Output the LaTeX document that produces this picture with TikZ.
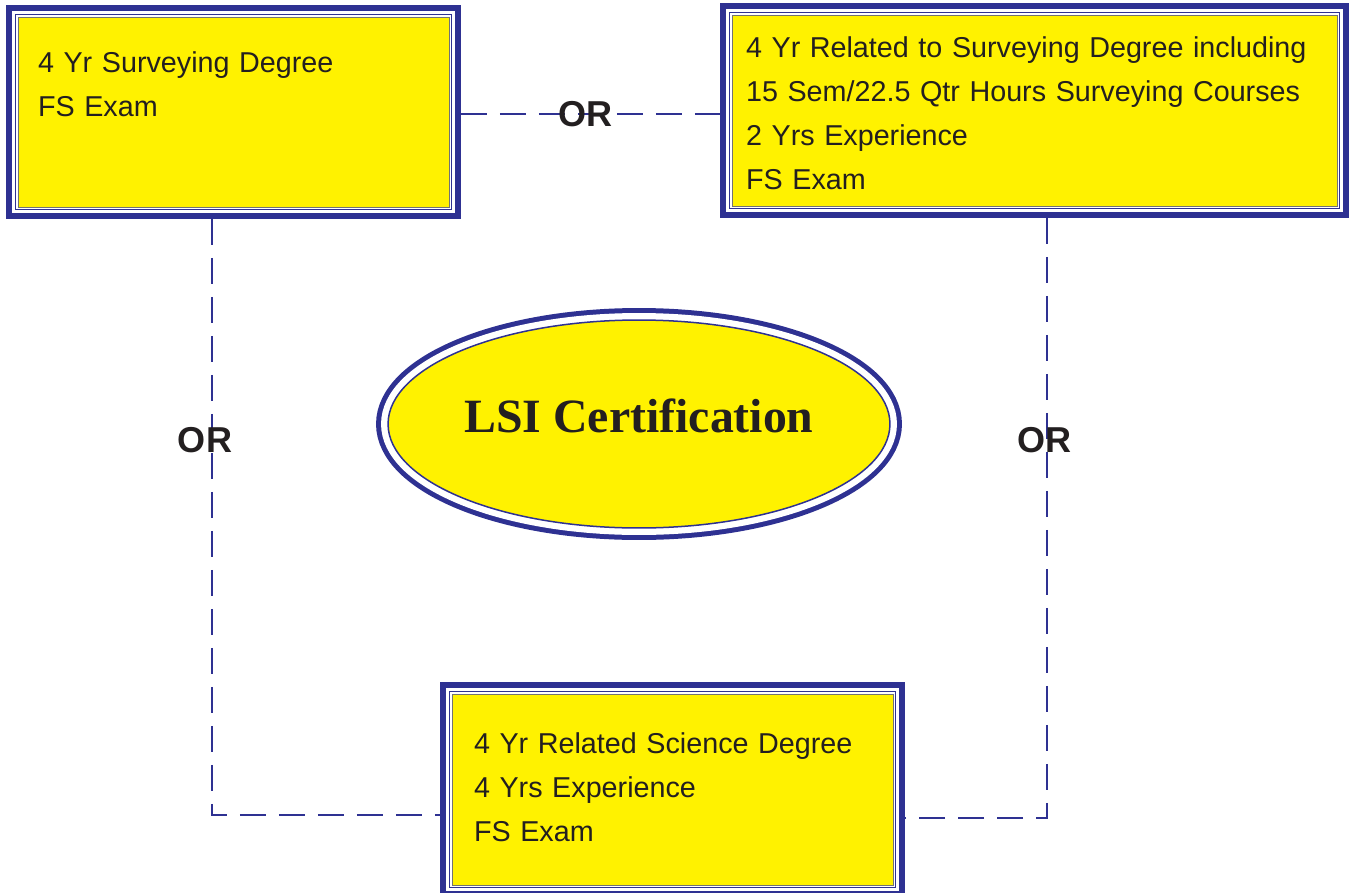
\documentclass[tikz,border=0pt]{standalone}
\usepackage{fontspec}
\setmainfont{Liberation Sans}
\newfontfamily\lsiserif{Liberation Serif}
\usetikzlibrary{shapes.geometric}
\definecolor{lsiblue}{HTML}{2E3192}
\definecolor{lsiyellow}{HTML}{FFF200}
\definecolor{lsitext}{HTML}{231F20}
\newcommand\boxfont{\fontsize{16.35pt}{25.2pt}\selectfont}
\newcommand\orfont{\fontsize{20.5pt}{24pt}\selectfont\bfseries}
\newcommand\lsifont{\lsiserif\bfseries\fontsize{27.2pt}{30pt}\selectfont}
\tikzset{
	degbox/.style={rectangle, fill=lsiyellow, draw=black!55, line width=0.4pt,
		preaction={draw=lsiblue, line width=0.48cm},
		preaction={draw=white, line width=0.24cm},
		preaction={draw=lsiblue, line width=0.13cm},
		preaction={draw=white, line width=0.08cm},
		outer sep=0.24cm, inner ysep=0pt, align=left, text=lsitext, font=\boxfont},
	lsioval/.style={ellipse, fill=lsiyellow, draw=lsiblue, line width=0.03cm,
		preaction={draw=lsiblue, line width=0.48cm},
		preaction={draw=white, line width=0.28cm},
		minimum width=10.04cm, minimum height=4.16cm, inner sep=0pt,
		text=lsitext, font=\lsifont},
	orline/.style={draw=lsiblue, line width=0.04cm, dash pattern=on 0.52cm off 0.26cm},
	orlabel/.style={text=lsitext, font=\orfont, inner sep=0pt}
}
\begin{document}
\begin{tikzpicture}[x=0.02cm, y=-0.02cm]
		\useasboundingbox (0, 0) rectangle (1351, 892);
		\node[degbox, text width=7.82cm, inner xsep=0.4cm, text height=1.1cm, text depth=2.7cm] (surv) at (233.5, 112) {4 Yr Surveying Degree\\FS Exam};
		\node[degbox, text width=11.54cm, inner xsep=0.28cm, text height=0.84cm, text depth=2.98cm] (rel) at (1034.5, 110.5) {4 Yr Related to Surveying Degree including\\15 Sem/22.5 Qtr Hours Surveying Courses\\2 Yrs Experience\\FS Exam};
		\node[degbox, text width=7.94cm, inner xsep=0.44cm, text height=1.18cm, text depth=2.64cm] (sci) at (672.5, 789.5) {4 Yr Related Science Degree\\4 Yrs Experience\\FS Exam};
		\node[lsioval, text depth=0.32cm] (lsi) at (639, 424) {LSI Certification};
		\draw[orline] ([yshift=-0.04cm]surv.east) -- ([yshift=-0.04cm]surv.east -| rel.west) node[orlabel, pos=0.48] (or1) {OR};
		\draw[orline] ([xshift=-0.44cm]surv.south) |- ([yshift=-0.5cm]sci.west) node[orlabel, pos=0.186, xshift=-0.13cm] (or2) {OR};
		\draw[orline] ([xshift=0.25cm]rel.south) |- ([yshift=-0.57cm]sci.east) node[orlabel, pos=0.185, xshift=-0.06cm] (or3) {OR};
\end{tikzpicture}
\end{document}
